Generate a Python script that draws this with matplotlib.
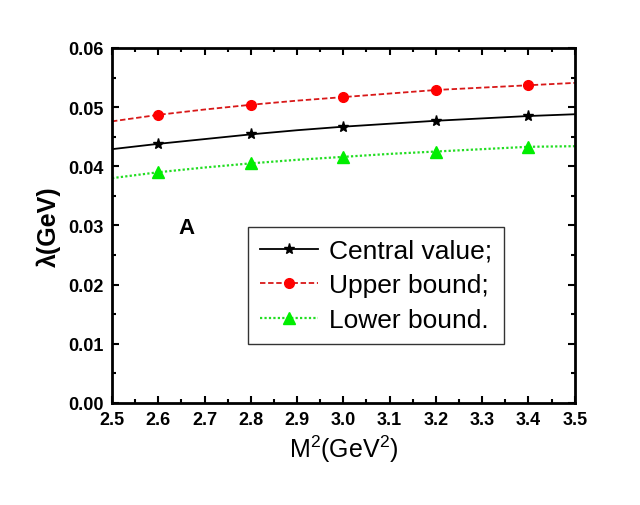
import matplotlib
matplotlib.use("Agg")
import matplotlib.pyplot as plt
from matplotlib.ticker import MultipleLocator, FormatStrFormatter

plt.rcParams['font.family'] = ['Liberation Sans', 'DejaVu Sans']
plt.rcParams['mathtext.fontset'] = 'custom'
plt.rcParams['mathtext.rm'] = 'Liberation Sans'
plt.rcParams['mathtext.it'] = 'Liberation Sans'

m2 = [2.5, 2.6, 2.7, 2.8, 2.9, 3.0, 3.1, 3.2, 3.3, 3.4, 3.5]
central = [0.0429, 0.0438, 0.0446, 0.0454, 0.0461, 0.0467, 0.0472, 0.0477, 0.0481, 0.0485, 0.0488]
upper = [0.0476, 0.0487, 0.0496, 0.0504, 0.0511, 0.0517, 0.0523, 0.0529, 0.0533, 0.0537, 0.0541]
lower = [0.0380, 0.0390, 0.0398, 0.0405, 0.0411, 0.0416, 0.0421, 0.0425, 0.0429, 0.0433, 0.0434]
labels = ['Central value;', 'Upper bound;', 'Lower bound.']

fig = plt.figure(figsize=(6.4, 5.06), dpi=100)
ax = fig.add_axes([0.175, 0.2016, 0.723, 0.7016])

mk = slice(1, None, 2)
ax.plot(m2, central, color='black', lw=1.3, ls='-', marker='*', ms=8,
        markevery=mk, mfc='black', mec='black', label=labels[0])
ax.plot(m2, upper, color='#d81818', lw=1.3, ls=(0, (3, 1.5)), marker='o', ms=7,
        markevery=mk, mfc='#ff0000', mec='#ff0000', label=labels[1])
ax.plot(m2, lower, color='#22dd22', lw=1.6, ls=(0, (1, 1)), marker='^', ms=8,
        markevery=mk, mfc='#00ee00', mec='#00ee00', label=labels[2])

ax.set_xlim(2.5, 3.5)
ax.set_ylim(0.0, 0.06)
ax.xaxis.set_major_locator(MultipleLocator(0.1))
ax.xaxis.set_minor_locator(MultipleLocator(0.05))
ax.yaxis.set_major_locator(MultipleLocator(0.01))
ax.yaxis.set_minor_locator(MultipleLocator(0.005))
ax.xaxis.set_major_formatter(FormatStrFormatter('%.1f'))
ax.yaxis.set_major_formatter(FormatStrFormatter('%.2f'))

ax.tick_params(which='both', direction='in', top=True, right=True, width=1.5)
ax.tick_params(which='major', length=5, labelsize=13, pad=6)
ax.tick_params(which='minor', length=3)
for lab in ax.get_xticklabels() + ax.get_yticklabels():
    lab.set_fontweight('bold')
for s in ax.spines.values():
    s.set_linewidth(2)

ax.set_xlabel(r'M$^\mathrm{2}$(GeV$^\mathrm{2}$)', fontsize=18, labelpad=3)
ax.set_ylabel('λ(GeV)', fontsize=18, fontweight='bold', labelpad=5)

ax.text(0.162, 0.495, 'A', transform=ax.transAxes, fontsize=16,
        fontweight='bold', ha='center', va='center')

leg = ax.legend(loc='upper left', bbox_to_anchor=(0.294, 0.496), borderaxespad=0,
                fontsize=19, frameon=True, fancybox=False, edgecolor='black',
                handlelength=2.2, handletextpad=0.4, labelspacing=0.4,
                borderpad=0.45)
leg.get_frame().set_linewidth(1.0)

fig.savefig('out.png', dpi=100)
